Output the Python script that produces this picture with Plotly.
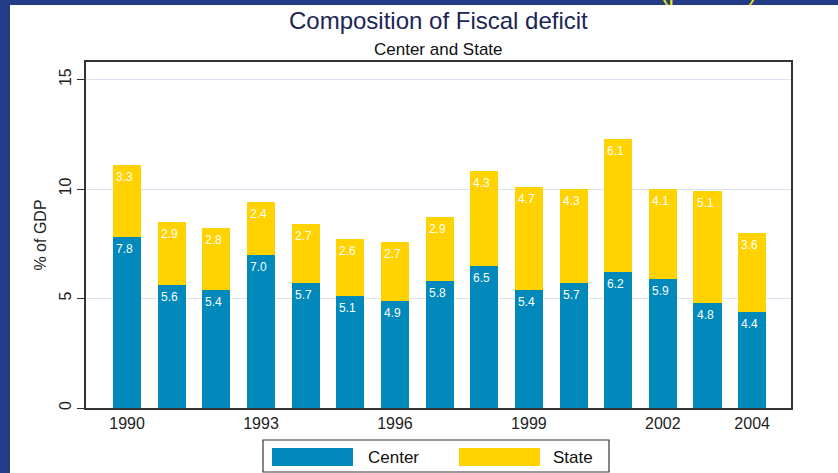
import plotly.graph_objects as go

# Fiscal deficit as % of GDP, split by level of government
years = [1990, 1991, 1992, 1993, 1994, 1995, 1996, 1997, 1998, 1999, 2000, 2001, 2002, 2003, 2004]
center = [7.8, 5.6, 5.4, 7.0, 5.7, 5.1, 4.9, 5.8, 6.5, 5.4, 5.7, 6.2, 5.9, 4.8, 4.4]
state = [3.3, 2.9, 2.8, 2.4, 2.7, 2.6, 2.7, 2.9, 4.3, 4.7, 4.3, 6.1, 4.1, 5.1, 3.6]
series_names = ["Center", "State"]
x_ticks = [1990, 1993, 1996, 1999, 2002, 2004]
y_ticks = [0, 5, 10, 15]

BLUE = "#0089BA"
YELLOW = "#FFD200"
NAVY = "#233C86"
FONT = "Liberation Sans, Arial, sans-serif"

W, H = 838, 473
ML, MR, MT, MB = 86, 47, 62, 65
PW, PH = W - ML - MR, H - MT - MB


def px(x):
    return (x - ML) / PW


def py(y):
    return (H - MB - y) / PH


fig = go.Figure()
fig.add_trace(go.Bar(x=years, y=center, name=series_names[0], marker=dict(color=BLUE, line=dict(width=0))))
fig.add_trace(go.Bar(x=years, y=state, name=series_names[1], marker=dict(color=YELLOW, line=dict(width=0))))

annotations = []

# slide heading in the navy band; only its lower edge shows above the white panel
annotations.append(dict(x=px(466), y=py(7.5), xref="paper", yref="paper", xanchor="center",
                        yanchor="bottom", showarrow=False,
                        text="Combined Fiscal Deficit of Center and States (percent)",
                        font=dict(family=FONT, size=24, color="#F2E600")))
# white strip that trims the heading where the panel starts
annotations.append(dict(x=px(10), y=py(5), xref="paper", yref="paper", xanchor="left",
                        yanchor="top", showarrow=False, text=" ", width=W, height=8,
                        borderpad=0, bgcolor="white"))

# value labels sit at the top-left inside each segment
for yr, c, s in zip(years, center, state):
    for val, top in ((c, c), (s, c + s)):
        annotations.append(dict(
            x=yr, y=top, xref="x", yref="y", text=f"{val:.1f}", showarrow=False,
            xanchor="left", yanchor="top", xshift=-13, yshift=-3,
            font=dict(family=FONT, size=12, color="white"),
        ))

# chart title and subtitle
annotations += [
    dict(x=px(439), y=py(20), xref="paper", yref="paper", xanchor="center", yanchor="middle",
         showarrow=False, text="Composition of Fiscal deficit",
         font=dict(family=FONT, size=24, color="#1C2654")),
    dict(x=px(438), y=py(49), xref="paper", yref="paper", xanchor="center", yanchor="middle",
         showarrow=False, text="Center and State",
         font=dict(family=FONT, size=17, color="#111111")),
]

# legend built from the series names
legend_items = [(series_names[0], BLUE, 272, 353, 366), (series_names[1], YELLOW, 459, 540, 551)]
shapes = [
    dict(type="rect", xref="paper", yref="paper", x0=px(-5), x1=px(W + 5), y0=py(H + 5), y1=py(-5),
         fillcolor=NAVY, line=dict(width=0), layer="below"),
    dict(type="rect", xref="paper", yref="paper", x0=px(10), x1=px(W + 5), y0=py(H + 5), y1=py(5),
         fillcolor="white", line=dict(width=0), layer="below"),
    dict(type="rect", xref="paper", yref="paper", x0=px(263), x1=px(609), y0=py(472), y1=py(440),
         fillcolor="white", line=dict(color="#333333", width=1.2), layer="above"),
]
for name, col, sx0, sx1, tx in legend_items:
    shapes.append(dict(type="rect", xref="paper", yref="paper", x0=px(sx0), x1=px(sx1),
                       y0=py(466), y1=py(448), fillcolor=col, line=dict(width=0), layer="above"))
    annotations.append(dict(x=px(tx), y=py(457), xref="paper", yref="paper", xanchor="left",
                            yanchor="middle", showarrow=False, text=name,
                            font=dict(family=FONT, size=17, color="#111111")))

fig.update_layout(
    width=W, height=H,
    margin=dict(l=ML, r=MR, t=MT, b=MB),
    paper_bgcolor=NAVY, plot_bgcolor="white",
    barmode="stack", bargap=0.37, showlegend=False,
    font=dict(family=FONT, size=16, color="#222222"),
    shapes=shapes, annotations=annotations,
    xaxis=dict(range=[1989.08, 2004.87], tickvals=x_ticks, ticks="", showgrid=False,
               zeroline=False, showline=True, linecolor="#333333", linewidth=1.5, mirror=True,
               tickfont=dict(size=16, color="#222222")),
    yaxis=dict(range=[0, 15.8], tickvals=y_ticks, tickangle=-90, ticks="outside", ticklen=7,
               tickcolor="#333333", showgrid=True, gridcolor="#DEE3F3", gridwidth=1, zeroline=False,
               showline=True, linecolor="#333333", linewidth=1.5, mirror=True,
               tickfont=dict(size=16, color="#222222"),
               title=dict(text="% of GDP", standoff=6, font=dict(size=16, color="#222222"))),
)

fig.write_html("out.html")
